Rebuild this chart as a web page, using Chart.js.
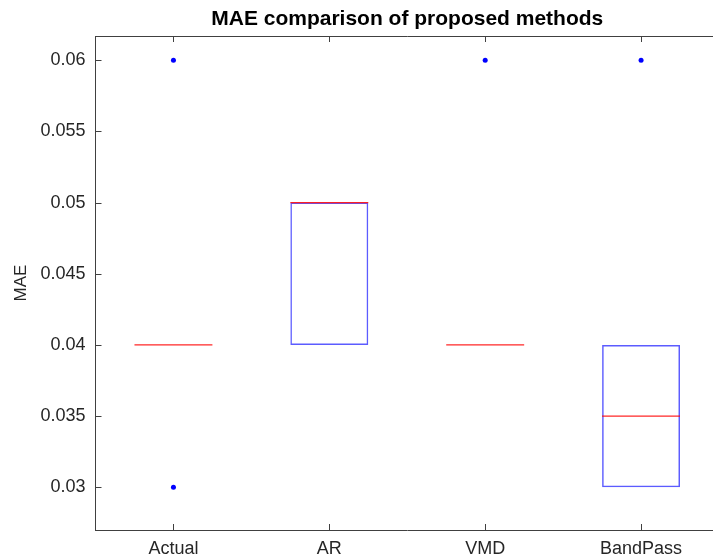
<!DOCTYPE html>
<html>
<head>
<meta charset="utf-8">
<script src="https://cdn.jsdelivr.net/npm/chart.js@4.4.1/dist/chart.umd.min.js"></script>
<style>
  html, body { margin: 0; padding: 0; background: #fff; width: 713px; height: 560px; overflow: hidden; }
  #wrap { width: 723px; height: 560px; }
</style>
</head>
<body>
<div id="wrap"><canvas id="grafico"></canvas></div>
<script>
const categorias = ["Actual", "AR", "VMD", "BandPass"];
const q1 = [0.04, 0.04, 0.04, 0.03];
const q3 = [0.04, 0.05, 0.04, 0.04];
const medianas = [0.04, 0.05, 0.04, 0.035];
const atipicos = [
  { x: "Actual", y: 0.06 },
  { x: "Actual", y: 0.03 },
  { x: "VMD", y: 0.06 },
  { x: "BandPass", y: 0.06 }
];
const yTicks = [0.03, 0.035, 0.04, 0.045, 0.05, 0.055, 0.06];

const colorEje = "#404040";
const colorTexto = "#262626";

// marcas hacia dentro y linea superior, estilo MATLAB
const marcasInternas = {
  id: "marcasInternas",
  afterDraw(chart) {
    const { ctx, chartArea, scales } = chart;
    const largo = 6;
    ctx.save();
    ctx.strokeStyle = colorEje;
    ctx.lineWidth = 1;
    ctx.beginPath();
    ctx.moveTo(chartArea.left, chartArea.top + 0.5);
    ctx.lineTo(chartArea.right, chartArea.top + 0.5);
    scales.x.ticks.forEach((t, i) => {
      const x = Math.round(scales.x.getPixelForTick(i)) + 0.5;
      ctx.moveTo(x, chartArea.bottom);
      ctx.lineTo(x, chartArea.bottom - largo);
      ctx.moveTo(x, chartArea.top);
      ctx.lineTo(x, chartArea.top + largo);
    });
    scales.y.ticks.forEach((t) => {
      const y = Math.round(scales.y.getPixelForValue(t.value)) + 0.5;
      ctx.moveTo(chartArea.left, y);
      ctx.lineTo(chartArea.left + largo, y);
    });
    ctx.stroke();
    ctx.restore();
  }
};

function anchoMediana(ctx) {
  const x = ctx.chart.scales.x;
  if (!x) return 38;
  return (x.getPixelForValue(1) - x.getPixelForValue(0)) * 0.25;
}

new Chart(document.getElementById("grafico"), {
  type: "bar",
  data: {
    labels: categorias,
    datasets: [
      {
        type: "line",
        label: "Atipicos",
        data: atipicos,
        showLine: false,
        pointStyle: "circle",
        pointRadius: 2.5,
        pointBackgroundColor: "#0000ff",
        pointBorderColor: "#0000ff",
        pointBorderWidth: 0,
        order: 0
      },
      {
        type: "line",
        label: "Mediana",
        data: medianas,
        showLine: false,
        pointStyle: "line",
        pointRadius: anchoMediana,
        pointBorderColor: "rgba(255,0,0,0.85)",
        pointBorderWidth: 1.2,
        order: 1
      },
      {
        label: "Caja",
        data: categorias.map((c, i) => [q1[i], q3[i]]),
        backgroundColor: "rgba(0,0,0,0)",
        borderColor: "#5c5cff",
        borderWidth: 1.5,
        borderSkipped: false,
        barPercentage: 0.5,
        categoryPercentage: 1,
        order: 2
      }
    ]
  },
  options: {
    responsive: true,
    maintainAspectRatio: false,
    animation: false,
    layout: { padding: { left: 0, right: 0, top: 0, bottom: 0 } },
    plugins: {
      legend: { display: false },
      tooltip: { enabled: false },
      title: {
        display: true,
        fullSize: false,
        text: "MAE comparison of proposed methods",
        color: "#000",
        font: { family: "'Liberation Sans', Arial, sans-serif", size: 21, weight: "bold" },
        padding: { top: 7, bottom: 3.8 }
      }
    },
    scales: {
      x: {
        grid: { display: false, drawTicks: false },
        border: { display: true, color: colorEje, width: 1 },
        ticks: {
          color: colorTexto,
          padding: 8,
          font: { family: "'Liberation Sans', Arial, sans-serif", size: 18 }
        },
        afterFit(scale) { scale.height = 30; }
      },
      y: {
        min: 0.027,
        max: 0.0617,
        grid: { display: false, drawTicks: false },
        border: { display: true, color: colorEje, width: 1 },
        afterBuildTicks(scale) { scale.ticks = yTicks.map((v) => ({ value: v })); },
        ticks: {
          color: colorTexto,
          padding: 10,
          font: { family: "'Liberation Sans', Arial, sans-serif", size: 18 },
          callback: (v) => String(v)
        },
        title: {
          display: true,
          text: "MAE",
          color: colorTexto,
          padding: { top: 11, bottom: 0 },
          font: { family: "'Liberation Sans', Arial, sans-serif", size: 17 }
        },
        afterFit(scale) { scale.width = 95.5; }
      }
    }
  },
  plugins: [marcasInternas]
});
</script>
</body>
</html>
